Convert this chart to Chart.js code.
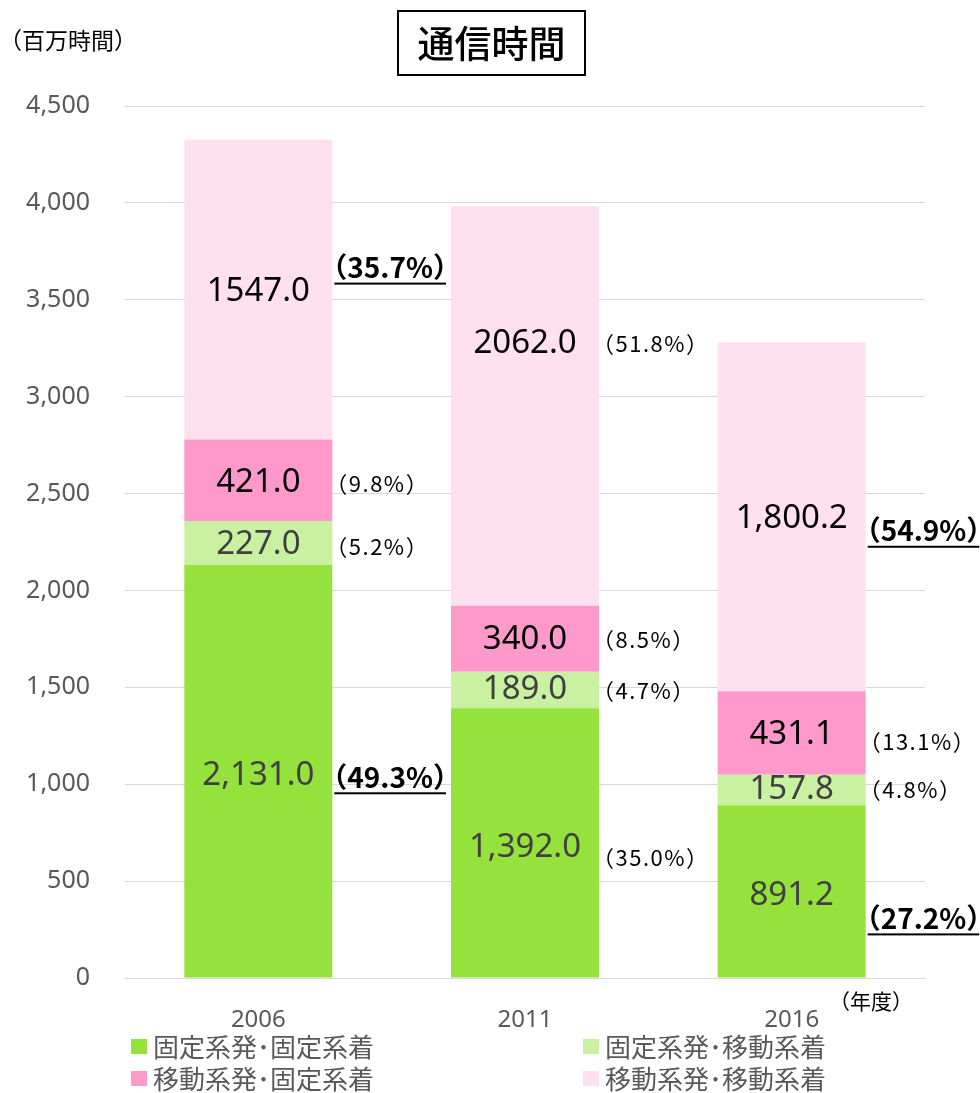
<!DOCTYPE html>
<html><head><meta charset="utf-8">
<script src="https://cdn.jsdelivr.net/npm/chart.js@4.4.1/dist/chart.umd.min.js"></script>
<style>
html,body{margin:0;padding:0;background:#fff;}
#wrap{position:relative;width:980px;height:1093px;overflow:hidden;font-family:"Noto Sans CJK JP","Noto Sans",sans-serif;}
canvas{position:absolute;left:0;top:0;}
#title{position:absolute;left:397px;top:10px;width:189px;height:66px;box-sizing:border-box;border:2px solid #000;font-size:37px;font-weight:500;line-height:60px;text-align:center;color:#000;}
#unit{position:absolute;left:-1px;top:22px;font-size:23px;color:#000;}
#year{position:absolute;left:829px;top:985px;font-size:21px;color:#000;}
.lg{position:absolute;font-size:26px;line-height:30px;color:#595959;white-space:nowrap;}
.lg span.box{position:absolute;left:0;top:8px;width:16px;height:15px;}
.lg span.txt{position:absolute;left:22px;top:0;}
</style></head>
<body><div id="wrap"><canvas id="c" width="980" height="1093"></canvas>
<div id="title">通信時間</div>
<div id="unit">（百万時間）</div>
<div id="year">（年度）</div>
<div id="legend"></div>
</div>
<script>
// ---- data ----
const categories = ['2006', '2011', '2016'];
const seriesNames = ['固定系発･固定系着', '固定系発･移動系着', '移動系発･固定系着', '移動系発･移動系着'];
const fixedToFixed   = [2131.0, 1392.0, 891.2];
const fixedToMobile  = [227.0, 189.0, 157.8];
const mobileToFixed  = [421.0, 340.0, 431.1];
const mobileToMobile = [1547.0, 2062.0, 1800.2];
const valueLabels = [
  ['2,131.0', '1,392.0', '891.2'],
  ['227.0', '189.0', '157.8'],
  ['421.0', '340.0', '431.1'],
  ['1547.0', '2062.0', '1,800.2']
];
const shareLabels = [
  ['（49.3%）', '（35.0%）', '（27.2%）'],
  ['（5.2%）', '（4.7%）', '（4.8%）'],
  ['（9.8%）', '（8.5%）', '（13.1%）'],
  ['（35.7%）', '（51.8%）', '（54.9%）']
];
const yTicks = [0, 500, 1000, 1500, 2000, 2500, 3000, 3500, 4000, 4500];

// ---- style ----
const colors = ['#95e23d', '#caf0a1', '#ff99cc', '#ffe0ee'];
const valueColors = ['#404040', '#404040', '#000000', '#000000'];
const shareEmphasis = [[true, false, true], [false, false, false], [false, false, false], [true, false, true]];
const valueOffsets = [[4, 5, 4], [2, 0, 0], [2, 1, 2], [2, -62, 2]];
const shareOffsets = [[6, 15, 27], [4, 1, 0], [3, 1, 9], [-22, -62, 14]];
const FONT = '"Noto Sans CJK JP","Noto Sans",sans-serif';

const seriesValues = [fixedToFixed, fixedToMobile, mobileToFixed, mobileToMobile];

// distance from text origin to the first inked pixel (left-aligned)
function glyphLead(ctx, t) {
  const m = ctx.measureText(t);
  return -m.actualBoundingBoxLeft;
}
function visibleExtent(ctx, t) {
  const m = ctx.measureText(t);
  return [-m.actualBoundingBoxLeft, m.actualBoundingBoxRight];
}

const labelPlugin = {
  id: 'labels',
  afterDatasetsDraw(chart) {
    const ctx = chart.ctx;
    ctx.save();
    chart.data.datasets.forEach((ds, i) => {
      const meta = chart.getDatasetMeta(i);
      meta.data.forEach((el, j) => {
        const p = el.getProps(['x', 'y', 'base', 'width'], true);
        const cy = (p.y + p.base) / 2;
        ctx.textBaseline = 'middle';
        ctx.textAlign = 'center';
        ctx.letterSpacing = '0px';
        ctx.fillStyle = valueColors[i];
        ctx.font = '33px "Noto Sans",' + FONT;
        ctx.fillText(valueLabels[i][j], p.x, cy + valueOffsets[i][j]);
        const edge = p.x + p.width / 2;
        const sy = cy + shareOffsets[i][j];
        ctx.textAlign = 'left';
        ctx.fillStyle = '#000';
        const t = shareLabels[i][j];
        if (shareEmphasis[i][j]) {
          ctx.font = 'bold 28px ' + FONT;
          const realX = edge + 5 - glyphLead(ctx, t);
          ctx.fillText(t, realX, sy);
          const vis = visibleExtent(ctx, t);
          ctx.fillRect(realX + vis[0] - 3, sy + 15, vis[1] - vis[0] + 6, 2);
        } else {
          ctx.font = '22px ' + FONT;
          ctx.letterSpacing = '1.5px';
          const realX = edge + 8 - glyphLead(ctx, t);
          ctx.fillText(t, realX, sy);
          ctx.letterSpacing = '0px';
        }
      });
    });
    ctx.restore();
  }
};

new Chart(document.getElementById('c'), {
  type: 'bar',
  data: {
    labels: categories,
    datasets: seriesValues.map((vals, i) => ({
      label: seriesNames[i],
      data: vals,
      backgroundColor: colors[i],
      borderWidth: 0,
      barPercentage: 0.555,
      categoryPercentage: 1.0
    }))
  },
  options: {
    responsive: false,
    animation: false,
    devicePixelRatio: 1,
    layout: { padding: { top: 106, right: 55, left: 0, bottom: 0 } },
    plugins: { legend: { display: false }, tooltip: { enabled: false }, title: { display: false } },
    scales: {
      x: {
        stacked: true,
        grid: { display: false, drawTicks: false },
        border: { display: true, color: '#d9d9d9', width: 1 },
        ticks: { color: '#595959', font: { size: 24, family: '"Noto Sans",' + FONT }, padding: 28 },
        afterFit(s) { s.height = 115; }
      },
      y: {
        stacked: true,
        min: 0, max: 4500,
        afterBuildTicks(s) { s.ticks = yTicks.map(v => ({ value: v })); },
        grid: { color: '#d9d9d9', drawTicks: false },
        border: { display: false },
        ticks: {
          color: '#595959', font: { size: 25, family: '"Noto Sans",' + FONT }, padding: 35,
          callback: v => v.toLocaleString('en-US')
        },
        afterFit(s) { s.width = 125; }
      }
    }
  },
  plugins: [labelPlugin]
});

// ---- legend (HTML) ----
const legendPos = [[131, 1031], [583, 1031], [131, 1063], [583, 1063]];
const lg = document.getElementById('legend');
seriesNames.forEach((n, i) => {
  const d = document.createElement('div');
  d.className = 'lg';
  d.style.left = legendPos[i][0] + 'px';
  d.style.top = legendPos[i][1] + 'px';
  d.innerHTML = '<span class="box" style="background:' + colors[i] + '"></span><span class="txt">' + n + '</span>';
  lg.appendChild(d);
});
</script>
</body></html>
